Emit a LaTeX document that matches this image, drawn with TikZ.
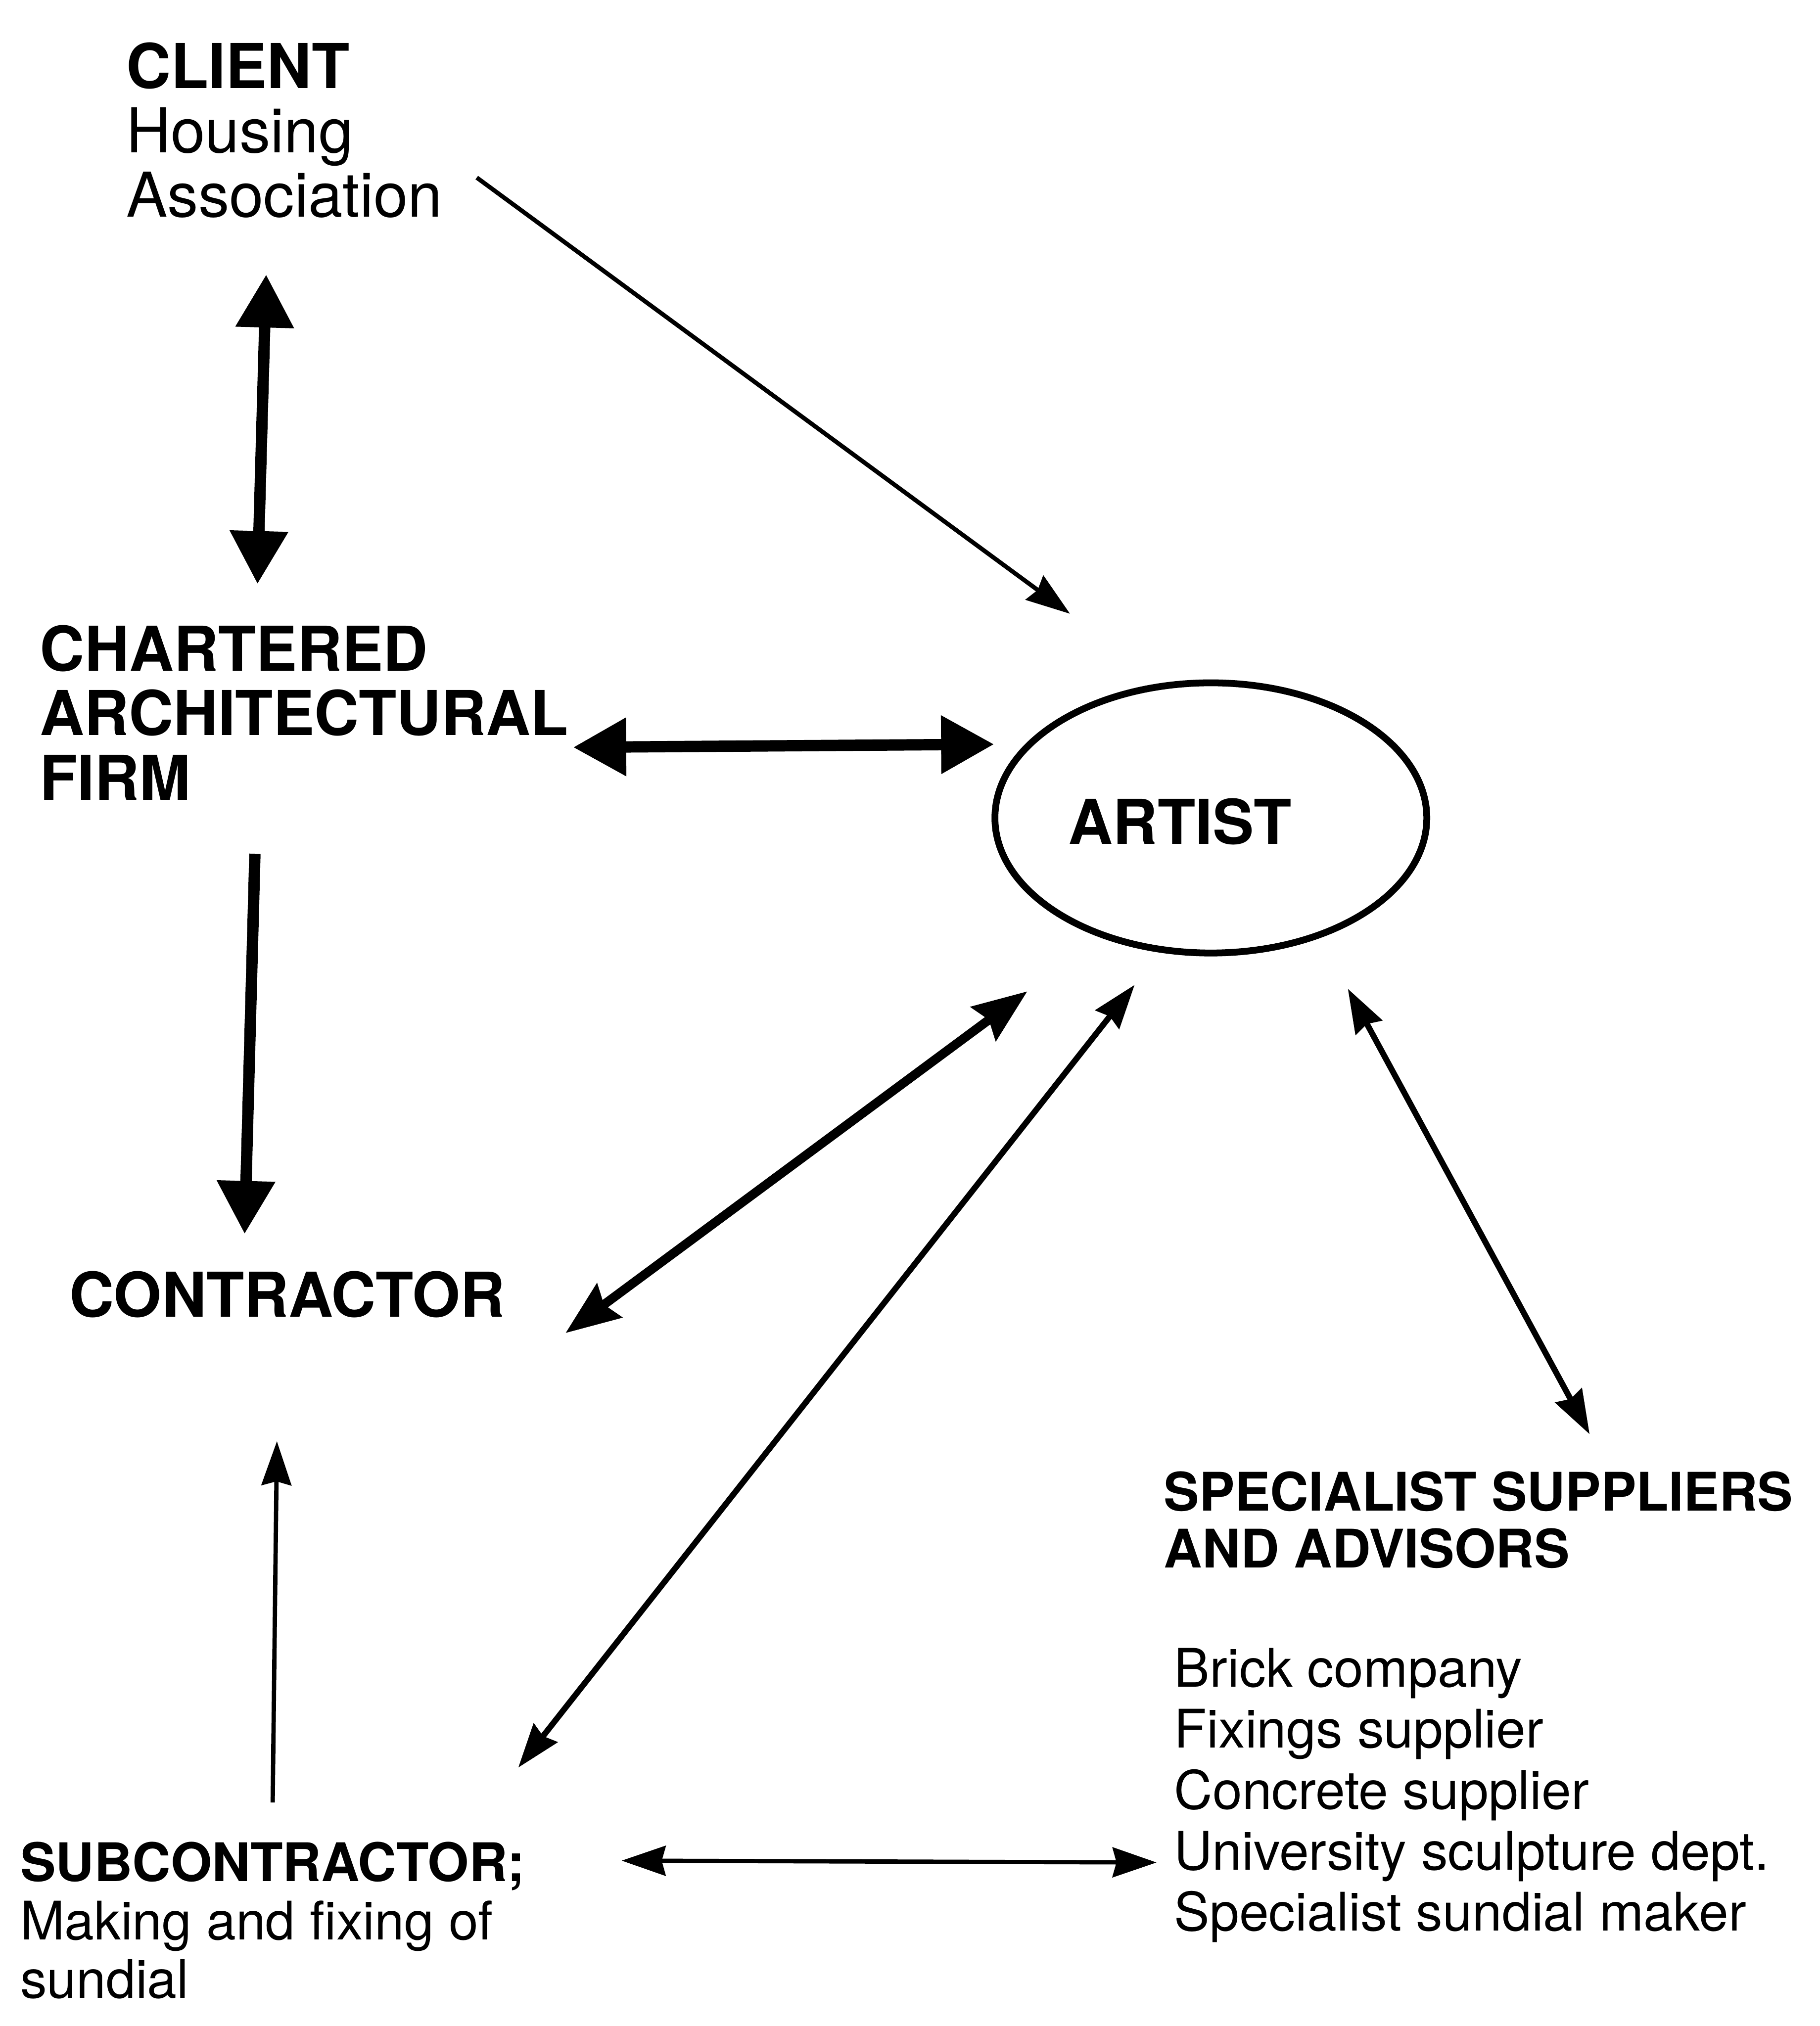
\documentclass[tikz,border=0pt]{standalone}
\usepackage{fontspec}
\setmainfont{TeX Gyre Heros}
\usetikzlibrary{arrows.meta, shapes.geometric}

\begin{document}
\begin{tikzpicture}[x=0.01cm, y=-0.01cm,
    party/.style={anchor=north west, inner sep=0pt, align=left,
      font=\fontsize{13.6}{14.2}\selectfont},
    head/.style={party, font=\fontsize{13.6}{14.2}\selectfont\bfseries},
    minor/.style={anchor=north west, inner sep=0pt, align=left,
      font=\fontsize{11.7}{13}\selectfont},
    big/.tip={Triangle[length=0.41cm, width=0.43cm]},
    mid/.tip={Stealth[length=0.42cm, width=0.32cm, inset=0.05cm]},
    small/.tip={Stealth[length=0.34cm, width=0.23cm, inset=0.03cm]},
    heavy/.style={line width=2.5pt},
    medium/.style={line width=1.3pt},
    light/.style={line width=0.95pt}]
  \useasboundingbox (0,0) rectangle (1408,1568);

  % the parties
  \node[party] (client) at (97,32) {\textbf{CLIENT}\\Housing\\Association};
  \node[head] (firm) at (30,483) {CHARTERED\\ARCHITECTURAL\\FIRM};
  \node[head] (contractor) at (53,983) {CONTRACTOR};
  \node[ellipse, draw, line width=1.5pt, minimum width=3.34cm, minimum height=2.09cm,
    label={[shift={(-24,3)}, font=\fontsize{13.6}{14.2}\selectfont\bfseries]center:ARTIST}]
    (artist) at (937,633) {};
  \node[minor, font=\fontsize{11.7}{12.5}\selectfont\bfseries] (specialists) at (900,1138)
    {SPECIALIST SUPPLIERS\\AND ADVISORS};
  \node[minor, font=\fontsize{11.7}{13.4}\selectfont] (suppliers) at (908,1275)
    {Brick company\\Fixings supplier\\Concrete supplier\\University sculpture dept.\\Specialist sundial maker};
  \node[minor, font=\fontsize{11.7}{12.8}\selectfont] (sub) at (15,1425)
    {\textbf{SUBCONTRACTOR;}\\Making and fixing of\\sundial};

  % links
  \draw[light, -small] ([shift={(26,-32)}]client.south east) -- ([shift={(-109,-158)}]artist.center);
  \draw[heavy, big-big] ([shift={(-14,43)}]client.south) -- ([shift={(-36,-31)}]firm.north);
  \draw[heavy, big-big] ([shift={(3,27)}]firm.east) -- ([shift={(2,-57)}]artist.west);
  \draw[heavy, -big] ([shift={(-38,41)}]firm.south) -- ([shift={(-33,-28)}]contractor.north);
  \draw[line width=2pt, mid-mid] ([shift={(46,30)}]contractor.east) -- ([shift={(-142,27)}]artist.south);
  \draw[medium, small-small] ([shift={(-6,-57)}]sub.north east) -- ([shift={(-59,22)}]artist.south);
  \draw[medium, small-small] ([shift={(106,25)}]artist.south) -- ([shift={(86,-28)}]specialists.north);
  \draw[light, -small] ([shift={(0,-30)}]sub.north) -- ([shift={(-8,95)}]contractor.south);
  \draw[light, small-small] ([shift={(74,15)}]sub.north east) -- ([shift={(-13,52)}]suppliers.west);
\end{tikzpicture}
\end{document}
